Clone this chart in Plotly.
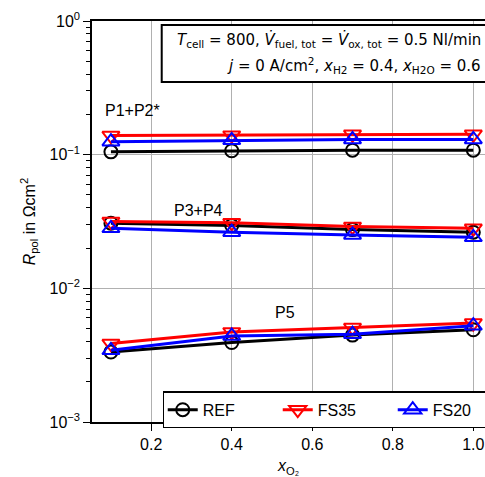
import numpy as np
import plotly.graph_objects as go

# Oxygen mole fraction on the air side
x_o2 = [0.1, 0.4, 0.7, 1.0]

# Polarisation resistance per process group (Ohm cm^2)
ref_p12 = [0.105, 0.107, 0.108, 0.108]
fs35_p12 = [0.139, 0.140, 0.142, 0.142]
fs20_p12 = [0.125, 0.128, 0.130, 0.130]

ref_p34 = [0.0307, 0.0295, 0.0275, 0.0263]
fs35_p34 = [0.0316, 0.0309, 0.0290, 0.0281]
fs20_p34 = [0.0281, 0.0263, 0.0251, 0.0241]

ref_p5 = [0.00334, 0.00393, 0.00447, 0.00490]
fs35_p5 = [0.00386, 0.00472, 0.00509, 0.00550]
fs20_p5 = [0.00344, 0.00440, 0.00454, 0.00525]

series = [
    ("REF", "black", "circle-open", 13, [ref_p12, ref_p34, ref_p5]),
    ("FS35", "#ff0000", "triangle-down-open", 15, [fs35_p12, fs35_p34, fs35_p5]),
    ("FS20", "#0000ff", "triangle-up-open", 15, [fs20_p12, fs20_p34, fs20_p5]),
]

group_labels = ["P1+P2*", "P3+P4", "P5"]
group_label_x = [0.080, 0.252, 0.502]
group_label_y = [0.215, 0.0384, 0.00657]

y_tickvals = [1e-3, 1e-2, 1e-1, 1e0]
y_ticktext = ["10<sup>\u22123</sup>", "10<sup>\u22122</sup>", "10<sup>\u22121</sup>", "10<sup>0</sup>"]
y_minor = [m * 10.0 ** d for d in (-3, -2, -1) for m in range(2, 10)]
x_tickvals = [0.2, 0.4, 0.6, 0.8, 1.0]
x_ticktext = ["0.2", "0.4", "0.6", "0.8", "1.0"]

# Operating conditions, one line each, right-aligned inside a framed box
cond_lines = [
    "<i>T</i><sub>cell</sub> = 800, <i>V\u0307</i><sub>fuel, tot</sub> = "
    "<i>V\u0307</i><sub>ox, tot</sub> = 0.5 Nl/min",
    "<i>j</i> = 0 A/cm<sup>2</sup>, <i>x</i><sub>H2</sub> = 0.4, "
    "<i>x</i><sub>H2O</sub> = 0.6",
]
cond_line_y = [0.9526, 0.890]

FONT = "Liberation Sans, Arial, sans-serif"

fig = go.Figure()
for name, color, symbol, msize, groups in series:
    for i, vals in enumerate(groups):
        fig.add_trace(go.Scatter(
            x=x_o2, y=vals, mode="lines+markers", name=name,
            legendgroup=name, showlegend=(i == 0),
            line=dict(color=color, width=3),
            marker=dict(symbol=symbol, size=msize, color=color,
                        line=dict(width=2, color=color)),
        ))

for lbl, lx, ly in zip(group_labels, group_label_x, group_label_y):
    fig.add_annotation(x=lx, y=np.log10(ly), xref="x", yref="y", text=lbl,
                       showarrow=False, xanchor="left", yanchor="middle",
                       font=dict(family=FONT, size=16, color="black"))

# frame of the conditions box (runs off the right edge of the figure)
fig.add_shape(type="rect", xref="paper", yref="paper",
              x0=0.1774, x1=1.04, y0=0.848, y1=0.99,
              line=dict(color="black", width=2), fillcolor="white", layer="above")
for txt, ly in zip(cond_lines, cond_line_y):
    fig.add_annotation(x=0.996, y=ly, xref="paper", yref="paper", text=txt,
                       showarrow=False, xanchor="right", yanchor="middle",
                       font=dict(family="DejaVu Sans", size=15, color="black"))

fig.update_layout(
    width=485, height=477,
    margin=dict(l=92, r=0, t=21, b=55, autoexpand=False),
    paper_bgcolor="white", plot_bgcolor="white",
    font=dict(family=FONT, size=16, color="black"),
    legend=dict(orientation="h", x=0.18, y=0.0766, xanchor="left", yanchor="top",
                bordercolor="black", borderwidth=1.5, bgcolor="white",
                entrywidth=70, font=dict(family=FONT, size=16)),
    xaxis=dict(range=[0.053, 1.029], tickvals=x_tickvals, ticktext=x_ticktext,
               ticks="outside", ticklen=7, tickwidth=1.3, tickcolor="black",
               showline=True, linecolor="black", linewidth=1.5, mirror=True,
               showgrid=True, gridcolor="#b0b0b0", gridwidth=1.3, zeroline=False,
               title=dict(text="<i>x</i><sub>O\u2082</sub>", standoff=8,
                          font=dict(family=FONT, size=16))),
    yaxis=dict(type="log", range=[-3, 0], tickvals=y_tickvals, ticktext=y_ticktext,
               ticks="outside", ticklen=7, tickwidth=1.3, tickcolor="black",
               showline=True, linecolor="black", linewidth=1.5,
               showgrid=True, gridcolor="#b0b0b0", gridwidth=1.3, zeroline=False,
               minor=dict(tickvals=y_minor, ticks="outside", ticklen=4, tickwidth=1,
                          tickcolor="black", showgrid=False),
               title=dict(text="<i>R</i><sub>pol</sub> in \u03a9cm<sup>2</sup>",
                          standoff=10, font=dict(family=FONT, size=16))),
)

fig.write_html("out.html")
